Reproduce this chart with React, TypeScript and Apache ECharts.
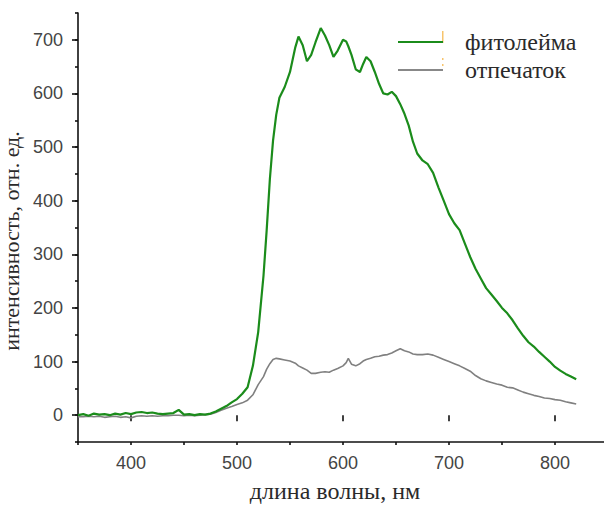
import React, { useEffect, useRef } from "react";
import * as echarts from "echarts";

const wavelength = [
  350, 355, 360, 365, 370, 375, 380, 385, 390, 395, 400, 405, 410, 415, 420, 425, 430, 435, 440, 445,
  450, 455, 460, 465, 470, 475, 480, 485, 490, 495, 500, 505, 510, 515, 520, 525, 528, 531, 534, 537,
  540, 545, 550, 555, 558, 562, 566, 570, 574, 579, 583, 587, 591, 595, 600, 603, 605, 608, 612, 616,
  619, 622, 626, 630, 634, 638, 642, 646, 650, 654, 658, 662, 666, 670, 675, 680, 685, 690, 695, 700,
  705, 710, 715, 720, 725, 730, 735, 740, 745, 750, 755, 760, 765, 770, 775, 780, 785, 790, 795, 800,
  805, 810, 815, 820,
];

const phytoleima = [
  0, 2, -1, 3, 1, 2, 0, 3, 1, 4, 2, 5, 6, 4, 5, 3, 2, 3, 4, 10,
  1, 2, 0, 2, 1, 3, 7, 12, 17, 24, 30, 40, 52, 92, 155, 260, 345, 440, 512, 560,
  592, 612, 640, 686, 706, 690, 660, 672, 695, 722, 708, 690, 668, 680, 700, 697, 688, 672, 645, 640,
  655, 668, 660, 640, 618, 600, 598, 603, 595, 580, 562, 540, 510, 488, 475, 468, 452, 425, 400, 375,
  358, 345, 320, 295, 273, 255, 237, 225, 213, 200, 190, 177, 162, 148, 136, 128, 118, 109, 100, 90,
  83, 77, 72, 67,
];

const imprint = [
  -3, -3, -2, -3, -2, -4, -3, -2, -4, -3, -5, -2, -1, -2, -1, -2, -1, -1, 0, 0,
  -1, 0, -1, 0, 1, 2, 5, 9, 13, 16, 20, 23, 28, 38, 57, 72, 86, 96, 104, 106,
  105, 103, 101, 97, 92, 88, 84, 78, 78, 80, 81, 80, 84, 87, 92, 98, 106, 95, 92, 96,
  101, 104, 106, 109, 110, 112, 113, 116, 120, 124, 120, 118, 114, 113, 113, 114, 112, 108, 104, 100,
  96, 92, 87, 82, 74, 68, 64, 61, 58, 56, 52, 51, 47, 43, 40, 37, 35, 32, 31, 29,
  28, 25, 23, 21,
];

const seriesNames = ["фитолейма", "отпечаток"];
const xTickLabels = [400, 500, 600, 700, 800];
const yTickLabels = [0, 100, 200, 300, 400, 500, 600, 700];

export default function App() {
  const ref = useRef<HTMLDivElement>(null);

  useEffect(() => {
    const chart = echarts.init(ref.current!, null, { renderer: "svg" });
    const axisFont = { fontFamily: "Liberation Sans", fontSize: 18, color: "#444" };
    const lineStyle = { color: "#111", width: 1.6 };
    chart.setOption({
      animation: false,
      backgroundColor: "#ffffff",
      grid: {
        left: 78,
        top: 13,
        right: -4,
        bottom: 64,
        containLabel: false,
        outerBoundsMode: "none",
      },
      legend: {
        orient: "vertical",
        left: 393,
        top: 25,
        itemWidth: 45,
        itemHeight: 2,
        itemGap: 4,
        icon: "rect",
        data: seriesNames,
        textStyle: {
          fontFamily: "Liberation Serif",
          fontSize: 24,
          color: "#2a2a2a",
          lineHeight: 22,
          padding: [0, 0, 0, 17],
        },
      },
      xAxis: [
        {
          type: "value",
          min: 350,
          max: 850,
          interval: 50,
          position: "bottom",
          name: "длина волны, нм",
          nameLocation: "middle",
          nameGap: 37,
          nameTextStyle: {
            fontFamily: "Liberation Serif",
            fontSize: 24,
            color: "#2a2a2a",
            padding: [0, 16, 0, 0],
          },
          axisLine: { show: true, onZero: false, lineStyle },
          axisTick: { show: true, length: 3, lineStyle },
          axisLabel: { customValues: xTickLabels, margin: 12, ...axisFont },
          splitLine: { show: false },
        },
        {
          type: "value",
          min: 350,
          max: 850,
          position: "bottom",
          axisLine: { show: false },
          axisTick: { show: true, length: 6, customValues: xTickLabels, lineStyle },
          axisLabel: { show: false },
          splitLine: { show: false },
        },
      ],
      yAxis: [
        {
          type: "value",
          min: -50,
          max: 750,
          interval: 50,
          position: "left",
          name: "интенсивность, отн. ед.",
          nameLocation: "middle",
          nameGap: 36,
          nameTextStyle: {
            fontFamily: "Liberation Serif",
            fontSize: 22,
            color: "#2a2a2a",
            padding: [0, 27, 0, 0],
          },
          axisLine: { show: true, onZero: false, lineStyle },
          axisTick: { show: true, length: 3, lineStyle },
          axisLabel: { customValues: yTickLabels, margin: 15, ...axisFont },
          splitLine: { show: false },
        },
        {
          type: "value",
          min: -50,
          max: 750,
          position: "left",
          axisLine: { show: false },
          axisTick: { show: true, length: 6, customValues: yTickLabels, lineStyle },
          axisLabel: { show: false },
          splitLine: { show: false },
        },
      ],
      graphic: [
        { type: "rect", left: 442, top: 31, shape: { width: 1.5, height: 12 }, style: { fill: "#f7c46c" } },
        { type: "rect", left: 442, top: 58, shape: { width: 1.5, height: 2 }, style: { fill: "#f7c46c" } },
        { type: "rect", left: 442, top: 64, shape: { width: 1.5, height: 2 }, style: { fill: "#f7c46c" } },
      ],
      series: [
        {
          name: seriesNames[0],
          type: "line",
          xAxisIndex: 0,
          yAxisIndex: 0,
          symbol: "none",
          data: wavelength.map((w, i) => [w, phytoleima[i]]),
          lineStyle: { color: "#1b8c1b", width: 2.2 },
          itemStyle: { color: "#1b8c1b" },
          z: 3,
        },
        {
          name: seriesNames[1],
          type: "line",
          xAxisIndex: 0,
          yAxisIndex: 0,
          symbol: "none",
          data: wavelength.map((w, i) => [w, imprint[i]]),
          lineStyle: { color: "#808080", width: 1.6 },
          itemStyle: { color: "#888888" },
          z: 2,
        },
      ],
    });
    return () => chart.dispose();
  }, []);

  return (
    <div
      ref={ref}
      style={{ position: "absolute", left: 0, top: 0, width: 604, height: 506 }}
    />
  );
}
